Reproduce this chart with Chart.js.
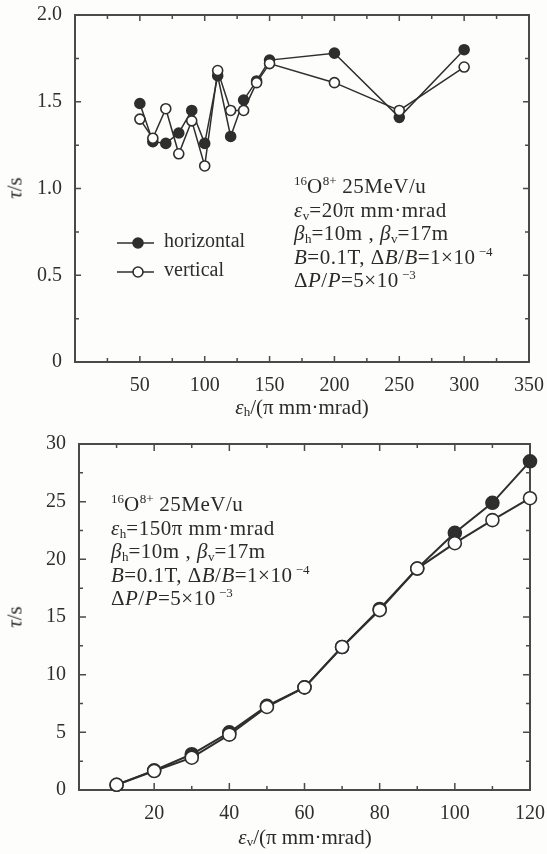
<!DOCTYPE html>
<html>
<head>
<meta charset="utf-8">
<script src="https://cdn.jsdelivr.net/npm/chart.js@4.4.1/dist/chart.umd.min.js"></script>
<style>
  html, body { margin: 0; padding: 0; background: #fdfdfc; }
  #wrap { position: relative; width: 547px; height: 854px; overflow: hidden; font-family: "Liberation Serif", "DejaVu Serif", serif; color: #2a2a2a; }
  .cv { position: absolute; left: 0; }
  .txt { position: absolute; font-size: 21px; line-height: 23.5px; letter-spacing: 0.5px; white-space: nowrap; }
  sup { font-size: 0.62em; vertical-align: 0.6em; line-height: 0; letter-spacing: 0; }
  sub { font-size: 0.62em; vertical-align: -0.2em; line-height: 0; letter-spacing: 0; }
  .ytitle { position: absolute; font-size: 21px; white-space: nowrap; transform: translate(-50%, -50%) rotate(-90deg); }
  .xtitle { position: absolute; font-size: 21px; white-space: nowrap; transform: translate(-50%, -50%); }
</style>
</head>
<body>
<div id="wrap">
  <canvas id="c1" class="cv" width="547" height="420" style="top:0"></canvas>
  <canvas id="c2" class="cv" width="547" height="434" style="top:420px"></canvas>

  <div class="txt" style="left:294px; top:175px;">
    <sup>16</sup>O<sup>8+</sup> 25MeV/u<br>
    <i>ε</i><sub>v</sub>=20π mm·mrad<br>
    <i>β</i><sub>h</sub>=10m , <i>β</i><sub>v</sub>=17m<br>
    <i>B</i>=0.1T, Δ<i>B</i>/<i>B</i>=1×10<sup>&nbsp;−4</sup><br>
    Δ<i>P</i>/<i>P</i>=5×10<sup>&nbsp;−3</sup>
  </div>
  <div class="txt" style="left:111px; top:493px;">
    <sup>16</sup>O<sup>8+</sup> 25MeV/u<br>
    <i>ε</i><sub>h</sub>=150π mm·mrad<br>
    <i>β</i><sub>h</sub>=10m , <i>β</i><sub>v</sub>=17m<br>
    <i>B</i>=0.1T, Δ<i>B</i>/<i>B</i>=1×10<sup>&nbsp;−4</sup><br>
    Δ<i>P</i>/<i>P</i>=5×10<sup>&nbsp;−3</sup>
  </div>

  <div class="ytitle" style="left:15px; top:188px;"><i>τ</i>/s</div>
  <div class="ytitle" style="left:15px; top:617px;"><i>τ</i>/s</div>
  <div class="xtitle" style="left:302px; top:407px;"><i>ε</i><sub>h</sub>/(π mm·mrad)</div>
  <div class="xtitle" style="left:305px; top:837px;"><i>ε</i><sub>v</sub>/(π mm·mrad)</div>
</div>

<script>
// ---------- data: top chart ----------
const topX      = [50, 60, 70, 80, 90, 100, 110, 120, 130, 140, 150, 200, 250, 300];
const topHoriz  = [1.49, 1.27, 1.26, 1.32, 1.45, 1.26, 1.65, 1.30, 1.51, 1.62, 1.74, 1.78, 1.41, 1.80];
const topVert   = [1.40, 1.29, 1.46, 1.20, 1.39, 1.13, 1.68, 1.45, 1.45, 1.61, 1.72, 1.61, 1.45, 1.70];
const topXTicks = [50, 100, 150, 200, 250, 300, 350];
const topYTicks = [0, 0.5, 1.0, 1.5, 2.0];

// ---------- data: bottom chart ----------
const botX      = [10, 20, 30, 40, 50, 60, 70, 80, 90, 100, 110, 120];
const botHoriz  = [0.45, 1.7, 3.1, 5.0, 7.3, 8.9, 12.4, 15.7, 19.2, 22.3, 24.9, 28.5];
const botVert   = [0.45, 1.65, 2.8, 4.8, 7.2, 8.9, 12.4, 15.6, 19.2, 21.4, 23.4, 25.3];
const botXTicks = [20, 40, 60, 80, 100, 120];
const botYTicks = [0, 5, 10, 15, 20, 25, 30];

const legendLabels = ['horizontal', 'vertical'];

const INK = '#2e2e2e';
const FONT = "'Liberation Serif', 'DejaVu Serif', serif";

function pts(xs, ys) { return xs.map((x, i) => ({ x: x, y: ys[i] })); }

// frame + inward ticks drawn from the chart's own scales
function framePlugin(xMajor, xMinor, yMajor, yMinor, majLen, minLen) {
  return {
    id: 'frame',
    beforeDatasetsDraw(chart) {
      const { ctx, chartArea: a, scales } = chart;
      const xs = scales.x, ys = scales.y;
      ctx.save();
      ctx.strokeStyle = '#4a4a4a';
      ctx.lineWidth = 2;
      ctx.strokeRect(a.left, a.top, a.right - a.left, a.bottom - a.top);
      ctx.lineWidth = 1.5;
      ctx.beginPath();
      for (let v = xs.min; v <= xs.max + 1e-9; v += xMinor) {
        const isMaj = Math.abs(v / xMajor - Math.round(v / xMajor)) < 1e-6;
        const L = isMaj ? majLen : minLen;
        const px = xs.getPixelForValue(v);
        ctx.moveTo(px, a.bottom); ctx.lineTo(px, a.bottom - L);
        ctx.moveTo(px, a.top); ctx.lineTo(px, a.top + L);
      }
      for (let v = ys.min; v <= ys.max + 1e-9; v += yMinor) {
        const isMaj = Math.abs(v / yMajor - Math.round(v / yMajor)) < 1e-6;
        const L = isMaj ? majLen : minLen;
        const py = ys.getPixelForValue(v);
        ctx.moveTo(a.left, py); ctx.lineTo(a.left + L, py);
        ctx.moveTo(a.right, py); ctx.lineTo(a.right - L, py);
      }
      ctx.stroke();
      ctx.restore();
    }
  };
}

const legendPlugin = {
  id: 'customLegend',
  afterDatasetsDraw(chart) {
    const { ctx } = chart;
    const rows = [
      { y: 243, fill: INK },
      { y: 272, fill: '#ffffff' }
    ];
    ctx.save();
    rows.forEach((r, i) => {
      ctx.strokeStyle = INK;
      ctx.lineWidth = 1.6;
      ctx.beginPath(); ctx.moveTo(117, r.y); ctx.lineTo(154, r.y); ctx.stroke();
      ctx.beginPath(); ctx.arc(138, r.y, 5, 0, Math.PI * 2);
      ctx.fillStyle = r.fill; ctx.fill(); ctx.stroke();
      ctx.fillStyle = INK;
      ctx.font = "20px " + FONT;
      ctx.textBaseline = 'middle';
      ctx.fillText(legendLabels[i], 164, r.y - 1);
    });
    ctx.restore();
  }
};

function makeChart(id, cfg) {
  return new Chart(document.getElementById(id), {
    type: 'line',
    data: {
      datasets: [
        { label: legendLabels[1], data: pts(cfg.x, cfg.v), order: 0, clip: false,
          borderColor: INK, borderWidth: cfg.lw, pointRadius: cfg.r, pointHoverRadius: cfg.r,
          pointBackgroundColor: '#ffffff', pointBorderColor: INK, pointBorderWidth: 1.6, tension: 0 },
        { label: legendLabels[0], data: pts(cfg.x, cfg.h), order: 1, clip: false,
          borderColor: INK, borderWidth: cfg.lw, pointRadius: cfg.r, pointHoverRadius: cfg.r,
          pointBackgroundColor: INK, pointBorderColor: INK, pointBorderWidth: 1.6, tension: 0 }
      ]
    },
    options: {
      responsive: false,
      animation: false,
      devicePixelRatio: 1,
      layout: { padding: cfg.pad },
      plugins: { legend: { display: false }, tooltip: { enabled: false } },
      scales: {
        x: {
          type: 'linear', min: cfg.xmin, max: cfg.xmax,
          afterFit: s => { s.height = cfg.xh; s.paddingLeft = 0; s.paddingRight = 0; },
          afterBuildTicks: s => { s.ticks = cfg.xt.map(v => ({ value: v })); },
          grid: { display: false }, border: { display: false },
          ticks: { color: INK, font: { family: FONT, size: 20 }, padding: cfg.xpad, maxRotation: 0, autoSkip: false,
                   callback: v => String(v) }
        },
        y: {
          type: 'linear', min: cfg.ymin, max: cfg.ymax,
          afterFit: s => { s.width = cfg.yw; s.paddingTop = 0; s.paddingBottom = 0; },
          afterBuildTicks: s => { s.ticks = cfg.yt.map(v => ({ value: v })); },
          grid: { display: false }, border: { display: false },
          ticks: { color: INK, font: { family: FONT, size: 20 }, padding: cfg.ypad, autoSkip: false,
                   callback: cfg.yfmt }
        }
      }
    },
    plugins: cfg.plugins
  });
}

makeChart('c1', {
  x: topX, h: topHoriz, v: topVert, xt: topXTicks, yt: topYTicks,
  xmin: 0, xmax: 350, ymin: 0, ymax: 2,
  pad: { top: 15, right: 18, left: 0, bottom: 0 }, xh: 58, yw: 75, xpad: 4, ypad: 5,
  lw: 1.5, r: 5,
  yfmt: v => (v === 0 ? '0' : v.toFixed(1)),
  plugins: [framePlugin(50, 25, 0.5, 0.25, 6, 4), legendPlugin]
});

makeChart('c2', {
  x: botX, h: botHoriz, v: botVert, xt: botXTicks, yt: botYTicks,
  xmin: 0, xmax: 120, ymin: 0, ymax: 30,
  pad: { top: 24, right: 17, left: 0, bottom: 0 }, xh: 64, yw: 79, xpad: 4, ypad: 5,
  lw: 2, r: 6.5,
  yfmt: v => String(v),
  plugins: [framePlugin(20, 10, 5, 2.5, 7, 4)]
});
</script>
</body>
</html>
